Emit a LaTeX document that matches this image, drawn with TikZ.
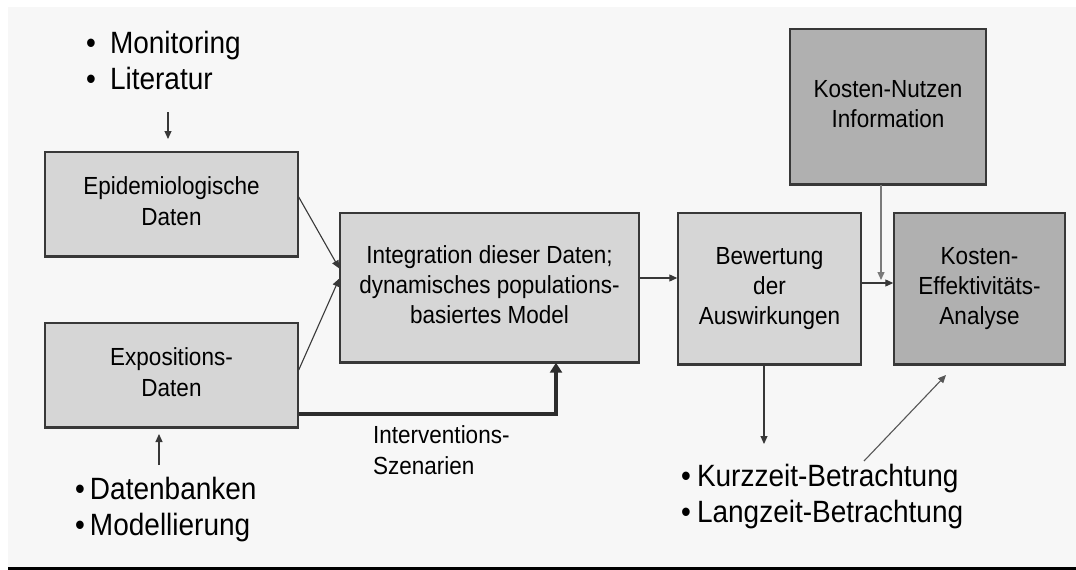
\documentclass[tikz,border=0pt]{standalone}
\usepackage{graphicx}
\usepackage{fontspec}
\setmainfont{Liberation Sans}
\usetikzlibrary{arrows.meta,calc}

\definecolor{pagebg}{HTML}{F7F7F7}
\definecolor{boxlight}{HTML}{D6D6D6}
\definecolor{boxdark}{HTML}{B0B0B0}
\definecolor{edge}{HTML}{383838}
\definecolor{linegray}{HTML}{7A7A7A}

% text lines, slightly stretched vertically
\newcommand{\tall}[1]{\scalebox{1}[1.1]{#1}}
\newcommand{\clines}[1]{\tall{\begin{tabular}{@{}c@{}}#1\end{tabular}}}
\newcommand{\llines}[1]{\tall{\begin{tabular}{@{}l@{}}#1\end{tabular}}}

\begin{document}
\begin{tikzpicture}[x=1pt,y=-1pt,
  box/.style={draw=edge, line width=1.4pt, fill=boxlight, inner sep=0pt,
    font=\fontsize{22.5}{27.3}\selectfont},
  darkbox/.style={box, fill=boxdark},
  boxfoot/.style={draw=edge, line width=3pt},
  bullets/.style={inner sep=0pt, anchor=west, font=\fontsize{28}{33}\selectfont},
  plain/.style={inner sep=0pt, anchor=west, font=\fontsize{22.5}{27.3}\selectfont},
  arr/.style={draw=edge, line width=1.1pt, -{Triangle[length=8pt,width=7pt]}},
  grayarr/.style={draw=linegray, line width=1.3pt, -{Triangle[length=8pt,width=7pt]}},
  thickarr/.style={draw=edge!80!black, line width=4pt, -{Triangle[length=10pt,width=12pt]}}]

% page and frame
\useasboundingbox (0,0) rectangle (1076,570);
\fill[white] (0,0) rectangle (1076,570);
\fill[pagebg] (8,7) rectangle (1076,567);
\draw[black, line width=3pt] (8,568.5) -- (1076,568.5);

% boxes
\node[box, minimum width=253pt, minimum height=104pt] (epi) at (171.5,204)
  {\clines{Epidemiologische\\Daten}};
\node[box, minimum width=253pt, minimum height=104pt] (expo) at (171.5,375)
  {\clines{Expositions-\\Daten}};
\node[box, minimum width=299pt, minimum height=149pt] (integ) at (489.5,287.5)
  {\clines{Integration dieser Daten;\\dynamisches populations-\\basiertes Model}};
\node[box, minimum width=183pt, minimum height=151pt] (bew) at (769.5,288.5)
  {\clines{Bewertung\\der\\Auswirkungen}};
\node[darkbox, minimum width=171pt, minimum height=151pt] (kea) at (979.5,288.5)
  {\clines{Kosten-\\Effektivitäts-\\Analyse}};
\node[darkbox, minimum width=196pt, minimum height=155pt] (kn) at (888,106.5)
  {\clines{Kosten-Nutzen\\Information}};

% heavier lower edges
\foreach \b in {epi,expo,integ,bew,kea,kn}
  \draw[boxfoot] (\b.south west) -- (\b.south east);

% bullet lists and label
\node[bullets] (mon) at (86,64.5)
  {\llines{•\hspace{14pt}Monitoring\\•\hspace{14pt}Literatur}};
\node[bullets] (dat) at (75,510)
  {\llines{•\hspace{5pt}Datenbanken\\•\hspace{5pt}Modellierung}};
\node[bullets] (kurz) at (681,497)
  {\llines{•\hspace{6pt}Kurzzeit-Betrachtung\\•\hspace{6pt}Langzeit-Betrachtung}};
\node[plain] (interv) at (373,453)
  {\llines{Interventions-\\Szenarien}};

% free ends of the short arrows
\coordinate (monTail) at (168,112);
\coordinate (monHead) at (168,139);
\coordinate (datTail) at (159,465);
\coordinate (datHead) at (159,434);
\coordinate (kurzHead) at (764,444);
\coordinate (kurzTail) at (864,461);
\coordinate (keaHead) at (946,375);

% connectors
\draw[arr] (monTail) -- (monHead);
\draw[arr] (datTail) -- (datHead);
\draw[arr] ([yshift=7pt]epi.east) -- ([yshift=19pt]integ.west);
\draw[arr] ([yshift=5pt]expo.east) -- ([yshift=9pt]integ.west);
\draw[thickarr] ([yshift=-39pt]expo.east) -| ([xshift=66.5pt]integ.south);

\coordinate (ie) at ([yshift=9.5pt]integ.east);
\draw[arr] (ie) -- (ie -| bew.west);
\coordinate (be) at ([yshift=5.5pt]bew.east);
\draw[arr] (be) -- (be -| kea.west);
\coordinate (kns) at ([xshift=-7pt]kn.south);
\draw[grayarr] (kns) -- ([yshift=3pt]kns |- be);

\draw[arr] ([xshift=-5.5pt]bew.south) -- (kurzHead);
\draw[arr, draw=edge!85] (kurzTail) -- (keaHead);
\end{tikzpicture}
\end{document}
